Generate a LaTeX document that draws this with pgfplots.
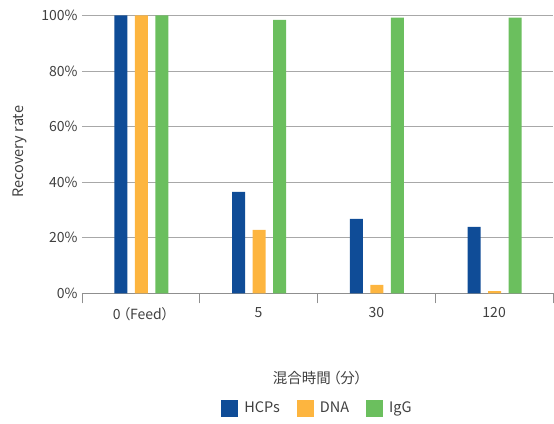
\documentclass[border=0pt]{standalone}
\usepackage{fontspec}
\setmainfont{Noto Sans CJK JP}[RawFeature=+palt]
\usepackage{pgfplots}
\pgfplotsset{compat=1.18}
\definecolor{hcp}{HTML}{0F4C97}
\definecolor{dna}{HTML}{FDB53F}
\definecolor{igg}{HTML}{6BBF5E}
\definecolor{txt}{HTML}{404040}
\definecolor{grd}{HTML}{A8A8A8}
\begin{document}
\begin{tikzpicture}
\begin{axis}[
  scale only axis,
  width=471pt, height=277.8pt,
  xmin=-0.5, xmax=3.5,
  ymin=0, ymax=100,
  axis x line*=bottom, axis y line*=left,
  axis line style={-},
  x axis line style={draw=grd!85!black, line width=0.9pt},
  y axis line style={draw=none},
  xtick={0,1,2,3},
  xticklabels={0\,（Feed）,5,30,120},
  major x tick style={draw=none},
  minor xtick={-0.5,0.5,1.5,2.5,3.5},
  minor x tick style={draw=grd!85!black, line width=0.9pt},
  minor tick length=10pt,
  ytick={0,20,40,60,80,100},
  yticklabels={0\%,20\%,40\%,60\%,80\%,100\%},
  major y tick style={draw=none},
  ymajorgrids,
  grid style={draw=grd, line width=0.9pt},
  tick label style={font=\fontsize{14}{16}\selectfont, text=txt},
  xticklabel style={yshift=-6pt},
  yticklabel style={xshift=-1pt},
  ylabel={Recovery rate},
  ylabel style={at={(axis description cs:-0.131,0.51)}, anchor=center, font=\fontsize{14.5}{16}\selectfont, text=txt},
  xlabel={混合時間\,（分）},
  xlabel style={at={(axis description cs:0.5,-0.305)}, anchor=center, font=\fontsize{14.5}{18}\selectfont, text=txt},
  ybar, bar width=13pt,
  legend style={at={(axis description cs:0.5,-0.413)}, anchor=center, draw=none, legend columns=3, font=\fontsize{14.5}{16}\selectfont, text=txt},
  legend image code/.code={\fill[#1] (0pt,-8.5pt) rectangle (17pt,8.5pt);},
]
\addplot[fill=hcp, draw=none, bar shift=-20pt] coordinates {(0,100) (1,36.5) (2,26.8) (3,23.9)};
\addplot[fill=dna, draw=none, bar shift=0.5pt] coordinates {(0,100) (1,22.8) (2,3.0) (3,0.8)};
\addplot[fill=igg, draw=none, bar shift=21pt] coordinates {(0,100) (1,98.4) (2,99.2) (3,99.2)};
\legend{\hspace{4pt}HCPs\rule{15pt}{0pt},\hspace{4pt}DNA\rule{15pt}{0pt},\hspace{4pt}IgG}
\coordinate (o) at (rel axis cs:0,0);
\end{axis}
\path (o) ++(-82pt,-129.7pt) rectangle ++(554pt,423pt);
\end{tikzpicture}
\end{document}
